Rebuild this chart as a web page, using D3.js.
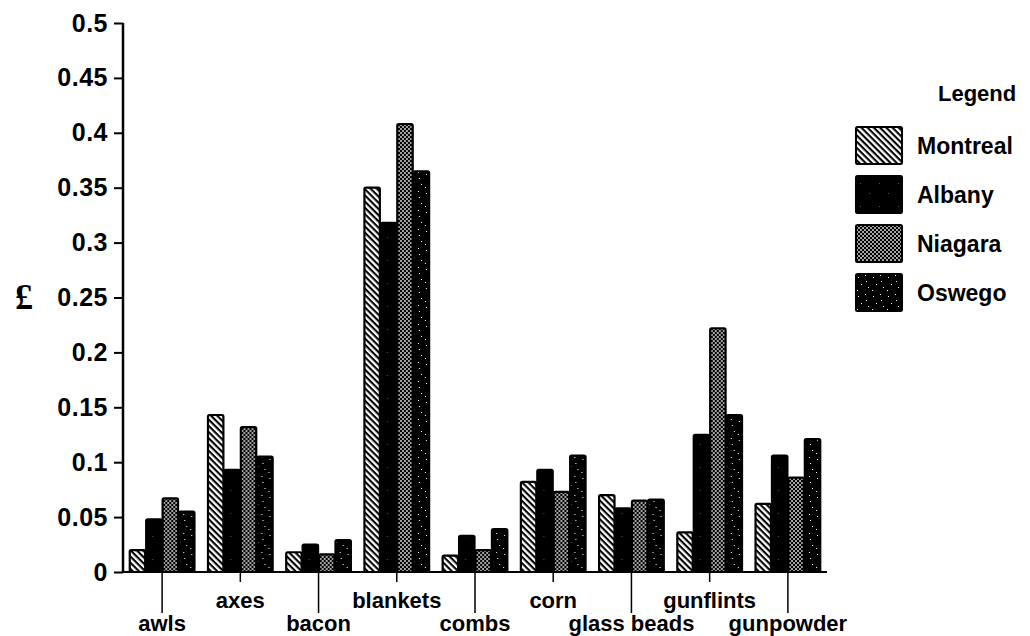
<!DOCTYPE html>
<html>
<head>
<meta charset="utf-8">
<script src="https://cdn.jsdelivr.net/npm/d3@7"></script>
<style>
  html, body { margin: 0; padding: 0; background: #fff; }
  svg { display: block; }
  text { font-family: "Liberation Sans", Arial, sans-serif; font-weight: bold; fill: #000; }
</style>
</head>
<body>
<svg id="chart" width="1030" height="636"></svg>
<script>
// ---- data ----
const categories = ["awls", "axes", "bacon", "blankets", "combs", "corn", "glass beads", "gunflints", "gunpowder"];
const series = ["Montreal", "Albany", "Niagara", "Oswego"];
const montreal = [0.020, 0.143, 0.018, 0.350, 0.015, 0.082, 0.070, 0.036, 0.062];
const albany   = [0.048, 0.093, 0.025, 0.318, 0.033, 0.093, 0.058, 0.125, 0.106];
const niagara  = [0.067, 0.132, 0.016, 0.408, 0.020, 0.073, 0.065, 0.222, 0.086];
const oswego   = [0.055, 0.105, 0.029, 0.365, 0.039, 0.106, 0.066, 0.143, 0.121];
const yTickValues = [0, 0.05, 0.1, 0.15, 0.2, 0.25, 0.3, 0.35, 0.4, 0.45, 0.5];
const yTickLabels = ["0", "0.05", "0.1", "0.15", "0.2", "0.25", "0.3", "0.35", "0.4", "0.45", "0.5"];
const yAxisTitle = "£";
const legendTitle = "Legend";

const seriesValues = [montreal, albany, niagara, oswego];
const table = categories.map((c, i) => ({
  category: c,
  values: series.map((s, j) => ({ series: s, value: seriesValues[j][i] }))
}));

// ---- layout ----
const svg = d3.select("#chart");
const mLeft = 123, mRight = 827, mTop = 23, mBottom = 572;

const x0 = d3.scaleBand().domain(categories).range([mLeft, mRight]).paddingInner(0.16).paddingOuter(0.08);
const x1 = d3.scaleBand().domain(series).range([0, x0.bandwidth()]).padding(0);
const y = d3.scaleLinear().domain([0, 0.5]).range([mBottom, mTop]);

// ---- patterns ----
const defs = svg.append("defs");
const pm = defs.append("pattern").attr("id", "p-Montreal").attr("patternUnits", "userSpaceOnUse")
  .attr("width", 4.4).attr("height", 4.4).attr("patternTransform", "rotate(45)");
pm.append("rect").attr("width", 4.4).attr("height", 4.4).attr("fill", "#fff");
pm.append("rect").attr("x", 0).attr("y", 0).attr("width", 4.4).attr("height", 2.1).attr("fill", "#000");

const pa = defs.append("pattern").attr("id", "p-Albany").attr("patternUnits", "userSpaceOnUse")
  .attr("width", 19).attr("height", 23);
pa.append("rect").attr("width", 19).attr("height", 23).attr("fill", "#000");
[[4, 7], [13, 17]].forEach(([a, b]) => pa.append("rect").attr("x", a).attr("y", b).attr("width", 1).attr("height", 1).attr("fill", "#555"));

const pn = defs.append("pattern").attr("id", "p-Niagara").attr("patternUnits", "userSpaceOnUse")
  .attr("width", 4).attr("height", 4);
pn.append("rect").attr("width", 4).attr("height", 4).attr("fill", "#000");
pn.append("rect").attr("x", 0.2).attr("y", 0.2).attr("width", 1.6).attr("height", 1.6).attr("fill", "#fff");
pn.append("rect").attr("x", 2.2).attr("y", 2.2).attr("width", 1.6).attr("height", 1.6).attr("fill", "#fff");

const po = defs.append("pattern").attr("id", "p-Oswego").attr("patternUnits", "userSpaceOnUse")
  .attr("width", 15).attr("height", 19);
po.append("rect").attr("width", 15).attr("height", 19).attr("fill", "#000");
[[2, 3], [9, 1], [5, 10], [12, 13], [1, 16], [10, 7]].forEach(([a, b]) =>
  po.append("rect").attr("x", a).attr("y", b).attr("width", 1).attr("height", 1).attr("fill", "#fff"));

// ---- bars ----
const groups = svg.append("g").selectAll("g").data(table).join("g")
  .attr("transform", d => `translate(${x0(d.category)},0)`);
groups.selectAll("rect").data(d => d.values).join("rect")
  .attr("x", d => x1(d.series) + 0.5)
  .attr("y", d => y(d.value))
  .attr("width", x1.bandwidth() - 1)
  .attr("height", d => y(0) - y(d.value))
  .attr("rx", 1.5)
  .attr("fill", d => `url(#p-${d.series})`)
  .attr("stroke", "#000").attr("stroke-width", 2.2);

// ---- y axis ----
const yAxis = svg.append("g").attr("transform", `translate(${mLeft},0)`)
  .call(d3.axisLeft(y).tickValues(yTickValues).tickFormat((d, i) => yTickLabels[i]).tickSize(9).tickPadding(6));
yAxis.select(".domain").attr("stroke", "#000").attr("stroke-width", 2.5).attr("d", `M0,${mTop}V${mBottom}`);
yAxis.selectAll(".tick line").attr("stroke", "#000").attr("stroke-width", 2);
yAxis.selectAll(".tick text").style("font-size", "25px").style("letter-spacing", "0.5px")
  .style("font-family", "'Liberation Sans', Arial, sans-serif").style("font-weight", "bold");

// ---- x axis ----
const xAxis = svg.append("g").attr("transform", `translate(0,${mBottom})`)
  .call(d3.axisBottom(x0).tickSize(10).tickPadding(0));
xAxis.select(".domain").attr("stroke", "#000").attr("stroke-width", 2).attr("d", `M${mLeft},0H${mRight}`);
xAxis.selectAll(".tick line").attr("stroke", "#000").attr("stroke-width", 1.5)
  .attr("y2", (d, i) => i % 2 === 0 ? 41 : 10);
xAxis.selectAll(".tick text")
  .style("font-size", "22px").style("font-family", "'Liberation Sans', Arial, sans-serif").style("font-weight", "bold")
  .attr("dy", null)
  .attr("y", (d, i) => i % 2 === 0 ? 59 : 36);

// ---- y title ----
svg.append("text").attr("x", 24).attr("y", 309).attr("text-anchor", "middle")
  .style("font-family", "'Liberation Serif', 'DejaVu Serif', serif").style("font-size", "36px").style("font-weight", "bold")
  .text(yAxisTitle);

// ---- legend ----
svg.append("text").attr("x", 938).attr("y", 101).style("font-size", "22px").text(legendTitle);
const lg = svg.append("g").selectAll("g").data(series).join("g")
  .attr("transform", (d, i) => `translate(856,${127 + i * 49})`);
lg.append("rect").attr("width", 46).attr("height", 37).attr("rx", 1.5)
  .attr("fill", d => `url(#p-${d})`).attr("stroke", "#000").attr("stroke-width", 2);
lg.append("text").attr("x", 61).attr("y", 18.5).attr("dy", "0.35em").style("font-size", "23px").text(d => d);
</script>
</body>
</html>
